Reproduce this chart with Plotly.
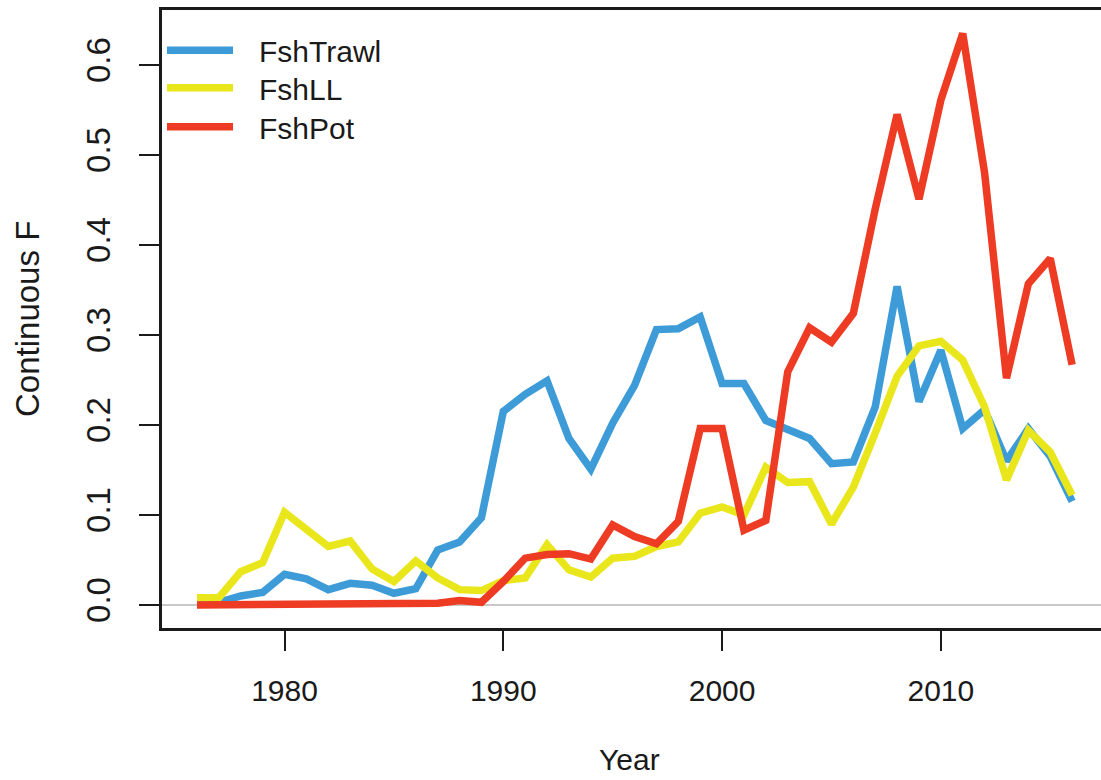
import plotly.graph_objects as go

# Fishing mortality (continuous F) by fleet, 1976-2016
years = list(range(1976, 2017))

fsh_trawl = [0.003, 0.003, 0.010, 0.014, 0.034, 0.029, 0.017, 0.024, 0.022, 0.013,
             0.018, 0.061, 0.070, 0.097, 0.215, 0.234, 0.249, 0.185, 0.151, 0.202,
             0.244, 0.306, 0.307, 0.320, 0.246, 0.246, 0.205, 0.196, 0.185, 0.157,
             0.159, 0.220, 0.354, 0.226, 0.283, 0.196, 0.217, 0.160, 0.196, 0.165,
             0.115]

fsh_ll = [0.008, 0.008, 0.037, 0.047, 0.103, 0.085, 0.065, 0.071, 0.040, 0.026,
          0.049, 0.030, 0.017, 0.016, 0.027, 0.030, 0.067, 0.039, 0.031, 0.052,
          0.054, 0.065, 0.070, 0.102, 0.109, 0.100, 0.153, 0.136, 0.137, 0.090,
          0.131, 0.191, 0.254, 0.288, 0.293, 0.272, 0.220, 0.139, 0.194, 0.170,
          0.122]

fsh_pot = [0.0, 0.0, 0.0, 0.0, 0.0, 0.0, 0.0, 0.0, 0.0, 0.0,
           0.0, 0.002, 0.005, 0.003, 0.026, 0.052, 0.056, 0.057, 0.051, 0.089,
           0.076, 0.068, 0.093, 0.196, 0.196, 0.083, 0.094, 0.259, 0.308, 0.292,
           0.324, 0.440, 0.545, 0.451, 0.561, 0.635, 0.480, 0.252, 0.357, 0.385,
           0.267]

series_names = ["FshTrawl", "FshLL", "FshPot"]
series_colors = ["#3d9bd8", "#e9e71c", "#ee3b24"]

x_ticks = [1980, 1990, 2000, 2010]
y_ticks = [0.0, 0.1, 0.2, 0.3, 0.4, 0.5, 0.6]
y_tick_labels = ["0.0", "0.1", "0.2", "0.3", "0.4", "0.5", "0.6"]

FONT = "Liberation Sans, Arial, sans-serif"
TXT = "#1a1a1a"
LEGEND_GAP = "\u2002\u2009"  # space between key line and label

# one legend box per series so the rows sit tightly stacked
legend_ids = ["legend", "legend2", "legend3"]
legend_rows_y = [0.935, 0.874, 0.811]

fig = go.Figure()
for name, vals, col, lid in zip(series_names, [fsh_trawl, fsh_ll, fsh_pot],
                                series_colors, legend_ids):
    fig.add_trace(go.Scatter(
        x=years, y=vals, name=LEGEND_GAP + name, mode="lines",
        line=dict(color=col, width=7.5), legend=lid,
    ))

legend_style = dict(
    x=0.0, xanchor="left", yanchor="middle",
    bgcolor="rgba(0,0,0,0)", borderwidth=0,
    font=dict(family=FONT, size=30, color=TXT),
    itemwidth=66,
)
legend_layout = {lid: dict(legend_style, y=ry) for lid, ry in zip(legend_ids, legend_rows_y)}

fig.update_layout(
    width=1101, height=780,
    margin=dict(l=162, r=0, t=10, b=152),
    paper_bgcolor="white", plot_bgcolor="white",
    font=dict(family=FONT, size=30, color=TXT),
    showlegend=True,
    **legend_layout,
    xaxis=dict(
        range=[1974.4, 2017.32],
        tickvals=x_ticks, ticktext=[str(v) for v in x_ticks],
        ticks="outside", ticklen=20, tickwidth=2, tickcolor="#1a1a1a",
        ticklabelstandoff=14,
        showline=True, linewidth=3, linecolor="#1a1a1a", mirror=True,
        showgrid=False, zeroline=False,
        tickfont=dict(family=FONT, size=30, color=TXT),
    ),
    yaxis=dict(
        range=[-0.0256, 0.6611],
        tickvals=y_ticks, ticktext=y_tick_labels, tickangle=-90,
        ticks="outside", ticklen=20, tickwidth=2, tickcolor="#1a1a1a",
        ticklabelstandoff=16,
        showline=True, linewidth=3, linecolor="#1a1a1a", mirror=False,
        showgrid=False,
        zeroline=True, zerolinecolor="#c8c8c8", zerolinewidth=1.5,
        tickfont=dict(family=FONT, size=33, color=TXT),
    ),
    annotations=[
        dict(text="Continuous F", xref="paper", yref="paper",
             x=-0.1438, y=0.5, textangle=-90, showarrow=False,
             xanchor="center", yanchor="middle",
             font=dict(family=FONT, size=33, color=TXT)),
        dict(text="Year", xref="paper", yref="paper",
             x=0.4984, y=-0.212, showarrow=False,
             xanchor="center", yanchor="middle",
             font=dict(family=FONT, size=30, color=TXT)),
    ],
)

fig.write_html("out.html")
